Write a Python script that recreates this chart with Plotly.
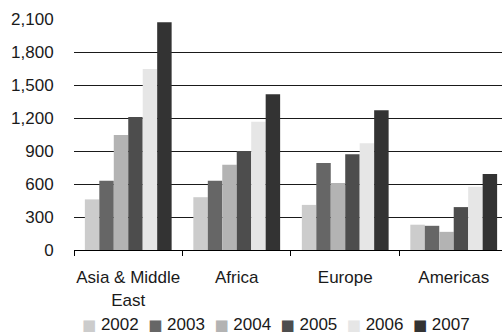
import plotly.graph_objects as go

# Regional totals by year
regions = ["Asia & Middle<br>East", "Africa", "Europe", "Americas"]
years = ["2002", "2003", "2004", "2005", "2006", "2007"]
values = {
    "2002": [460, 480, 410, 230],
    "2003": [630, 630, 790, 220],
    "2004": [1045, 775, 610, 165],
    "2005": [1210, 900, 870, 390],
    "2006": [1645, 1165, 970, 575],
    "2007": [2070, 1415, 1270, 690],
}
y_ticks = [0, 300, 600, 900, 1200, 1500, 1800, 2100]

shades = {
    "2002": "#cccccc",
    "2003": "#666666",
    "2004": "#b3b3b3",
    "2005": "#4d4d4d",
    "2006": "#e6e6e6",
    "2007": "#333333",
}

font_family = "Liberation Sans, Arial, sans-serif"
text_color = "#1a1a1a"

fig = go.Figure()
for yr in years:
    fig.add_trace(go.Bar(
        x=regions, y=values[yr], name=yr,
        marker=dict(color=shades[yr], line=dict(width=0)),
        showlegend=False,
    ))

# Compact one-line key: coloured square glyph followed by the year
key_parts = [
    f"<span style='color:{shades[yr]};font-family:DejaVu Sans;font-size:15px'>\u25A0</span> {yr}"
    for yr in years
]
key_text = "&nbsp; ".join(key_parts)

fig.add_annotation(
    text=key_text, showarrow=False,
    xref="paper", yref="paper", x=(275.5 - 74) / 428, y=-(325 - 250) / 231.3,
    xanchor="center", yanchor="middle",
    font=dict(family=font_family, size=17, color=text_color),
)

fig.update_layout(
    width=502, height=334,
    margin=dict(l=74, r=0, t=19, b=84, autoexpand=False),
    paper_bgcolor="white", plot_bgcolor="white",
    barmode="group", bargap=0.2, bargroupgap=0,
    font=dict(family=font_family, size=17, color=text_color),
    showlegend=False,
    xaxis=dict(
        range=[-0.5, 3.445], showgrid=False, automargin=False,
        showline=True, linecolor="black", linewidth=1,
        ticks="outside", tickson="boundaries", ticklen=5, tickcolor="black",
        tickangle=0, tickfont=dict(size=17), ticklabelstandoff=12,
    ),
    yaxis=dict(
        range=[0, 2100], tickvals=y_ticks, tickformat=",", automargin=False,
        showgrid=True, gridcolor="#1a1a1a", gridwidth=1,
        zeroline=False, showline=False,
        ticks="outside", ticklen=16, tickcolor="rgba(0,0,0,0)",
        tickfont=dict(size=17),
    ),
)

fig.write_html("out.html")
